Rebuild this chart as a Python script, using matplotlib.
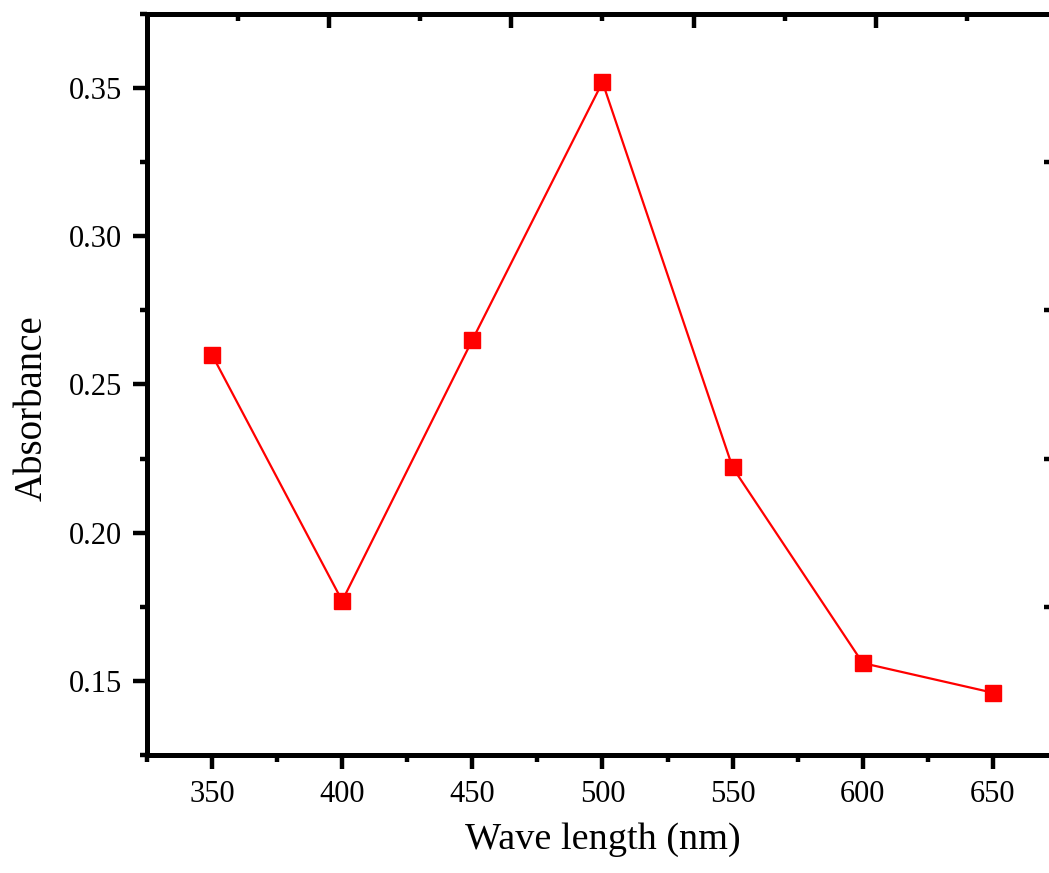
import matplotlib
matplotlib.use("Agg")
import matplotlib.pyplot as plt
from matplotlib.ticker import MultipleLocator, FixedLocator

# Absorbance measured at each wavelength
wavelength_nm = [350, 400, 450, 500, 550, 600, 650]
absorbance = [0.260, 0.177, 0.265, 0.352, 0.222, 0.156, 0.146]

plt.rcParams["font.family"] = ["Liberation Serif", "DejaVu Serif"]

XLIM = (325, 675)
YLIM = (0.125, 0.375)

fig = plt.figure(figsize=(10.49, 8.73), dpi=100)
ax = fig.add_axes([0.1401, 0.1352, 0.8685, 0.8488])

ax.plot(wavelength_nm, absorbance, color="#ff0000", lw=1.6,
        marker="s", markersize=11, markerfacecolor="#ff0000",
        markeredgecolor="#ff0000", zorder=3)

ax.set_xlim(*XLIM)
ax.set_ylim(*YLIM)
ax.xaxis.set_major_locator(MultipleLocator(50))
ax.xaxis.set_minor_locator(MultipleLocator(25))
ax.yaxis.set_major_locator(MultipleLocator(0.05))
ax.yaxis.set_minor_locator(MultipleLocator(0.025))
ax.yaxis.set_major_formatter(plt.FuncFormatter(lambda v, p: f"{v:.2f}"))

for s in ax.spines.values():
    s.set_linewidth(3.6)
    s.set_capstyle("round")

ax.tick_params(which="major", direction="out", length=10, width=3.2,
               labelsize=22, pad=8)
ax.tick_params(which="minor", direction="out", length=5, width=3.2)


def frac_positions(lo, hi, fracs):
    return [lo + (hi - lo) * f for f in fracs]


# Top and right axes carry their own evenly spaced inward ticks
top = ax.secondary_xaxis("top")
top.xaxis.set_major_locator(FixedLocator(frac_positions(*XLIM, [0.2, 0.4, 0.6, 0.8])))
top.xaxis.set_minor_locator(FixedLocator(frac_positions(*XLIM, [0.1, 0.3, 0.5, 0.7, 0.9])))
top.tick_params(which="major", direction="in", length=10, width=3.2,
                labeltop=False)
top.tick_params(which="minor", direction="in", length=5, width=3.2)
top.spines["top"].set_linewidth(3.6)

right = ax.secondary_yaxis("right")
right.yaxis.set_major_locator(FixedLocator(frac_positions(*YLIM, [0.2, 0.4, 0.6, 0.8])))
right.yaxis.set_minor_locator(FixedLocator(frac_positions(*YLIM, [0.1, 0.3, 0.5, 0.7, 0.9])))
right.tick_params(which="major", direction="in", length=10, width=3.2,
                  labelright=False)
right.tick_params(which="minor", direction="in", length=5, width=3.2)
right.spines["right"].set_linewidth(3.6)

ax.set_xlabel("Wave length (nm)", fontsize=27.5, labelpad=10)
ax.set_ylabel("Absorbance", fontsize=28, labelpad=12)
ax.yaxis.set_label_coords(-0.106, 0.468)

fig.savefig("out.png", dpi=100)
